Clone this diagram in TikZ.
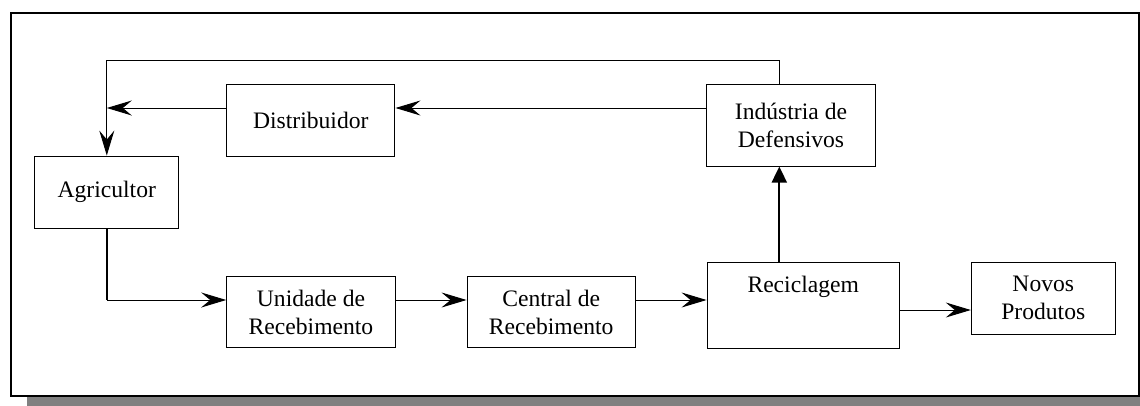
\documentclass[tikz,border=0pt]{standalone}
\usepackage{fontspec}
\setmainfont{Liberation Serif}
\usetikzlibrary{arrows.meta}
\tikzset{
  box/.style={draw=black, line width=1pt, rectangle, inner sep=0pt, align=center, font=\fontsize{23.6}{28.3}\selectfont},
  thin/.style={line width=1pt},
  thick2/.style={line width=2pt},
  sarrow/.style={-{Stealth[length=25pt,width=15pt,inset=9pt]}},
  tarrow/.style={-{Triangle[length=16pt,width=15pt]}},
}
\begin{document}
\begin{tikzpicture}[x=1pt,y=-1pt]
\useasboundingbox (0,0) rectangle (1140,405);
% shadow and frame
\fill[gray!100!black,fill=black!50] (27,396.5) rectangle (1160,410);
\draw[line width=2pt, fill=white] (10.5,12.5) rectangle (1138.5,395.5);
% nodes
\node[box, minimum width=144.3pt, minimum height=72.3pt] (agr) at (106.8,192.2) {Agricultor};
\node[box, minimum width=168.3pt, minimum height=71.7pt] (dist) at (310.8,120.2) {Distribuidor};
\node[box, minimum width=168.6pt, minimum height=81.7pt] (ind) at (791,125.2) {Indústria de\\Defensivos};
\node[box, minimum width=168.6pt, minimum height=71.3pt] (uni) at (311,312.3) {Unidade de\\Recebimento};
\node[box, minimum width=168.3pt, minimum height=71.3pt] (cen) at (551.2,312.3) {Central de\\Recebimento};
\node[box, minimum width=192.3pt, minimum height=85.7pt] (rec) at (803.2,305.2) {};
\node[font=\fontsize{23.6}{28.3}\selectfont, anchor=center] (rect) at (803.2,286.5) {Reciclagem};
\node[box, minimum width=144pt, minimum height=71.7pt] (nov) at (1043.3,298.2) {Novos\\Produtos};
% helper coordinates
\coordinate (top1) at (779.3,60.3);
\coordinate (top2) at (106.8,60.3);
\coordinate (dl) at (106.8,108);
\coordinate (bend) at (106.8,300);
% connectors
\draw[thin, sarrow] (ind.north -| top1) -- (top1) -- (top2) -- (agr.north);
\draw[thin, sarrow] (ind.west |- dl) -- (dist.east |- dl);
\draw[thin, sarrow] (dist.west |- dl) -- (dl);
\draw[thick2] (agr.south) -- (bend);
\draw[thin, sarrow] (bend) -- (uni.west |- bend);
\draw[thin, sarrow] (uni.east |- bend) -- (cen.west |- bend);
\draw[thin, sarrow] (cen.east |- bend) -- (rec.west |- bend);
\draw[thick2, tarrow] (rec.north -| top1) -- (ind.south -| top1);
\draw[thin, sarrow] (rec.east |- 0,310) -- (nov.west |- 0,310);
\end{tikzpicture}
\end{document}
